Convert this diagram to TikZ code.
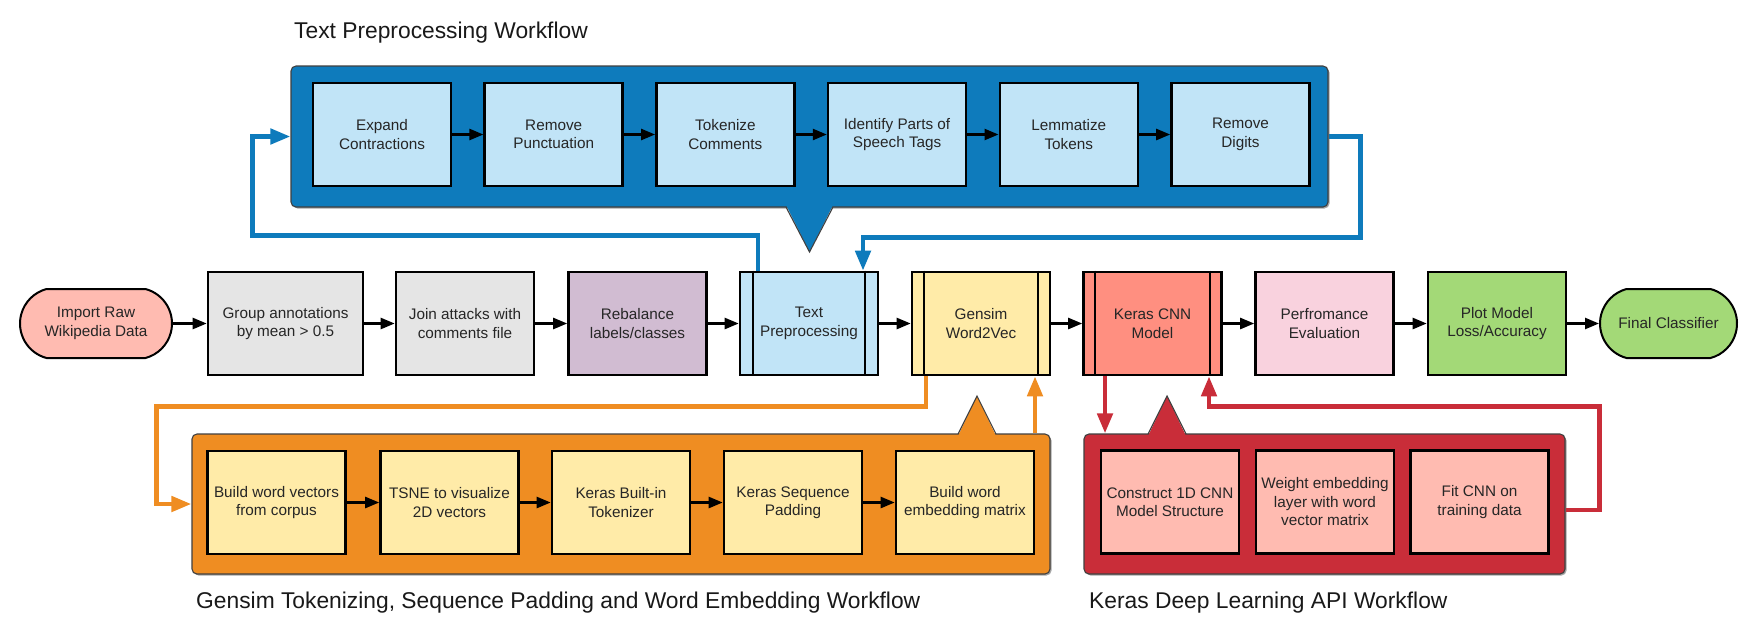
\documentclass[tikz,border=0pt]{standalone}
\usepackage{fontspec}
\setmainfont{Liberation Sans}
\usetikzlibrary{arrows.meta,shapes.misc,shadows}

\definecolor{tpblue}{HTML}{0E7BBC}
\definecolor{lblue}{HTML}{C1E4F7}
\definecolor{gsorange}{HTML}{EF8D22}
\definecolor{lyellow}{HTML}{FFEBA8}
\definecolor{kred}{HTML}{C92D39}
\definecolor{lsalmon}{HTML}{FFBBB1}
\definecolor{salmon}{HTML}{FF8F80}
\definecolor{lgray}{HTML}{E5E5E5}
\definecolor{lpurple}{HTML}{D1BCD2}
\definecolor{lpink}{HTML}{F9D2DE}
\definecolor{lgreen}{HTML}{A3D977}

\tikzset{
  boxtext/.style={font=\fontsize{15.3}{18.5}\selectfont, align=center, text=black!85},
  procbox/.style={boxtext, draw=black, line width=2.6pt, minimum width=138pt, minimum height=103pt, inner sep=0pt},
  termbox/.style={boxtext, draw=black, line width=2pt, rounded rectangle, rounded rectangle arc length=150, minimum width=152pt, minimum height=69pt, inner sep=0pt},
  container/.style={draw=black!75, line width=1.1pt, rounded corners=5pt, inner sep=0pt, drop shadow={shadow xshift=1.5pt, shadow yshift=-1.5pt, opacity=.35, fill=black}},
  cbord/.style={draw=black!75, line width=1.1pt},
  wftitle/.style={font=\fontsize{22.8}{27}\selectfont, anchor=base west, inner sep=0pt, text=black!90},
  flow/.style={line width=2.4pt, -{Triangle[length=14pt,width=11pt]}},
  wfloop/.style={line width=4.6pt, -{Triangle[length=20pt,width=15pt]}},
  sideline/.style={line width=2pt},
}

\begin{document}
\begin{tikzpicture}[x=1pt,y=-1pt]
	\path[use as bounding box, fill=white] (0,0) rectangle (1753,638);
	
	% titles
	\node[wftitle] (tptitle) at (294,38) {Text Preprocessing Workflow};
	\node[wftitle] (gstitle) at (196,608) {Gensim Tokenizing, Sequence Padding and Word Embedding Workflow};
	\node[wftitle] (kdtitle) at (1089,608) {Keras Deep Learning API Workflow};
	
	% containers
	\node[container, fill=tpblue, minimum width=1037pt, minimum height=141pt] (tpw) at (809.5,136.5) {};
	\fill[tpblue] (786,205) -- (809.5,252) -- (833,205) -- cycle;
	\draw[cbord] (786,207) -- (809.5,252) -- (833,207);
	
	\node[container, fill=gsorange, minimum width=858pt, minimum height=140pt] (gsw) at (621,504) {};
	\fill[gsorange] (958,436) -- (977,396) -- (996,436) -- cycle;
	\draw[cbord] (958,434) -- (977,396) -- (996,434);
	
	\node[container, fill=kred, minimum width=481pt, minimum height=140pt] (kdl) at (1324.5,504) {};
	\fill[kred] (1148,436) -- (1167,396) -- (1186,436) -- cycle;
	\draw[cbord] (1148,434) -- (1167,396) -- (1186,434);
	
	% text preprocessing steps
	\node[procbox, fill=lblue] (exp) at (382,134.5) {Expand\\Contractions};
	\node[procbox, fill=lblue] (pun) at (553.7,134.5) {Remove\\Punctuation};
	\node[procbox, fill=lblue] (tok) at (725.4,134.5) {Tokenize\\Comments};
	\node[procbox, fill=lblue] (pos) at (897.1,134.5) {Identify Parts of\\Speech Tags};
	\node[procbox, fill=lblue] (lem) at (1068.8,134.5) {Lemmatize\\Tokens};
	\node[procbox, fill=lblue] (dig) at (1240.5,134.5) {Remove\\Digits};
	
	% main row
	\node[termbox, fill=lsalmon] (imp) at (96,323.5) {Import Raw\\Wikipedia Data};
	\node[procbox, fill=lgray, minimum width=155pt] (grp) at (285.5,323.5) {Group annotations\\by mean > 0.5};
	\node[procbox, fill=lgray] (join) at (465,323.5) {Join attacks with\\comments file};
	\node[procbox, fill=lpurple] (reb) at (637.5,323.5) {Rebalance\\labels/classes};
	\node[procbox, fill=lblue] (txt) at (809,323.5) {Text\\Preprocessing};
	\node[procbox, fill=lyellow] (gen) at (981,323.5) {Gensim\\Word2Vec};
	\node[procbox, fill=salmon] (cnn) at (1152.5,323.5) {Keras CNN\\Model};
	\node[procbox, fill=lpink] (perf) at (1324.5,323.5) {Perfromance\\Evaluation};
	\node[procbox, fill=lgreen] (plot) at (1497,323.5) {Plot Model\\Loss/Accuracy};
	\node[termbox, fill=lgreen, minimum width=137pt] (fin) at (1668.5,323.5) {Final Classifier};
	
	\draw[sideline] ([xshift=14pt]txt.north west) -- ([xshift=14pt]txt.south west);
	\draw[sideline] ([xshift=-14pt]txt.north east) -- ([xshift=-14pt]txt.south east);
	\draw[sideline] ([xshift=13pt]gen.north west) -- ([xshift=13pt]gen.south west);
	\draw[sideline] ([xshift=-13pt]gen.north east) -- ([xshift=-13pt]gen.south east);
	\draw[sideline] ([xshift=13pt]cnn.north west) -- ([xshift=13pt]cnn.south west);
	\draw[sideline] ([xshift=-13pt]cnn.north east) -- ([xshift=-13pt]cnn.south east);
	
	% gensim steps
	\node[procbox, fill=lyellow] (bwv) at (276.5,502.5) {Build word vectors\\from corpus};
	\node[procbox, fill=lyellow] (tsne) at (449.5,502.5) {TSNE to visualize\\2D vectors};
	\node[procbox, fill=lyellow] (ktk) at (621,502.5) {Keras Built-in\\Tokenizer};
	\node[procbox, fill=lyellow] (ksp) at (793,502.5) {Keras Sequence\\Padding};
	\node[procbox, fill=lyellow] (bem) at (965,502.5) {Build word\\embedding matrix};
	
	% keras steps
	\node[procbox, fill=lsalmon] (c1d) at (1170,502) {Construct 1D CNN\\Model Structure};
	\node[procbox, fill=lsalmon] (wel) at (1325,502) {Weight embedding\\layer with word\\vector matrix};
	\node[procbox, fill=lsalmon] (fit) at (1479.5,502) {Fit CNN on\\training data};
	
	% flow arrows
	\draw[flow] (exp.east) -- (pun.west);
	\draw[flow] (pun.east) -- (tok.west);
	\draw[flow] (tok.east) -- (pos.west);
	\draw[flow] (pos.east) -- (lem.west);
	\draw[flow] (lem.east) -- (dig.west);
	
	\draw[flow] (imp.east) -- (grp.west);
	\draw[flow] (grp.east) -- (join.west);
	\draw[flow] (join.east) -- (reb.west);
	\draw[flow] (reb.east) -- (txt.west);
	\draw[flow] (txt.east) -- (gen.west);
	\draw[flow] (gen.east) -- (cnn.west);
	\draw[flow] (cnn.east) -- (perf.west);
	\draw[flow] (perf.east) -- (plot.west);
	\draw[flow] (plot.east) -- (fin.west);
	
	\draw[flow] (bwv.east) -- (tsne.west);
	\draw[flow] (tsne.east) -- (ktk.west);
	\draw[flow] (ktk.east) -- (ksp.west);
	\draw[flow] (ksp.east) -- (bem.west);
	
	% workflow loops
	\draw[wfloop, tpblue] ([xshift=-51pt]txt.north) -- ++(0,-35) -| ([xshift=-38pt]tpw.west) -- (tpw.west);
	\draw[wfloop, tpblue] (tpw.east) -- ++(32,0) |- ([xshift=54pt,yshift=33pt]txt.north) -- ([xshift=54pt]txt.north);
	
	\coordinate (gl) at ([xshift=-55pt]gen.south);
	\coordinate (gr) at ([xshift=54pt]gen.south);
	\draw[wfloop, gsorange] (gl) -- ++(0,30) -| ([xshift=-35pt]gsw.west) -- (gsw.west);
	\draw[wfloop, gsorange] (gr |- gsw.north) -- (gr);
	
	\coordinate (kl) at ([xshift=-47.5pt]cnn.south);
	\coordinate (kr) at ([xshift=56.5pt]cnn.south);
	\draw[wfloop, kred] (kl) -- (kl |- kdl.north);
	\draw[wfloop, kred] ([yshift=-6pt]kdl.east) -- ++(34,0) |- ([yshift=-30pt]kr) -- (kr);
	
\end{tikzpicture}
\end{document}
